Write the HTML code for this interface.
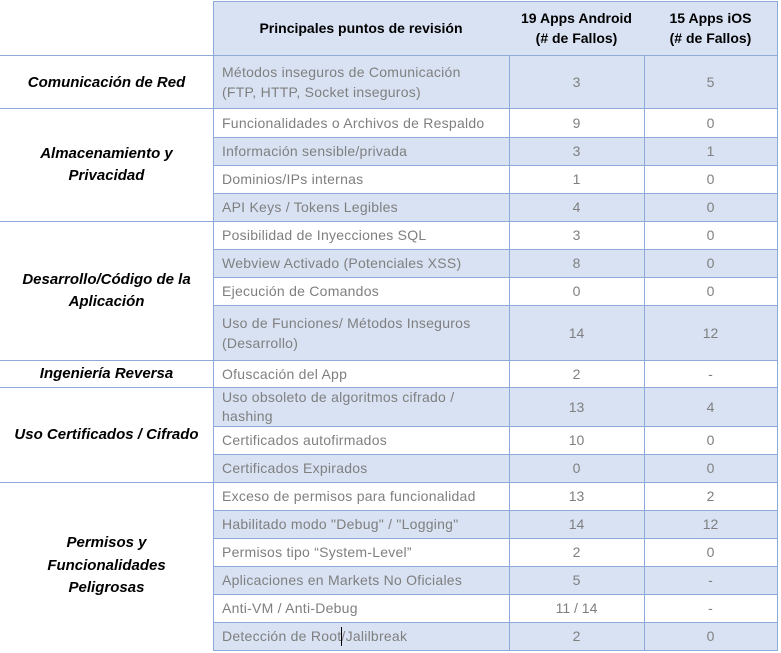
<!DOCTYPE html>
<html><head><meta charset="utf-8"><style>
*{margin:0;padding:0;box-sizing:border-box}
body{width:781px;height:653px;background:#fff;position:relative;overflow:hidden;font-family:"Liberation Sans",Arial,sans-serif}
.h{position:absolute;height:1px;background:#8eaadb}
.v{position:absolute;width:1px;background:#8eaadb}
.bg{position:absolute;left:213px;width:564px;background:#d9e2f3}
.t{position:absolute;left:222px;width:285px;font-size:14px;color:#7f7f7f;letter-spacing:0.25px;display:flex;align-items:center;line-height:20px;white-space:nowrap}
.n{position:absolute;font-size:14px;color:#7f7f7f;display:flex;align-items:center;justify-content:center;white-space:nowrap}
.a{left:509px;width:135px}
.b{left:644px;width:133px}
.cat{position:absolute;left:0;width:213px;font-size:15px;font-weight:bold;font-style:italic;color:#000;display:flex;align-items:center;justify-content:center;text-align:center;line-height:22px;white-space:nowrap}
.hd{position:absolute;top:1px;height:54px;font-size:14px;font-weight:bold;color:#000;display:flex;align-items:center;justify-content:center;text-align:center;line-height:20px;white-space:nowrap}
</style></head><body>

<!-- backgrounds -->
<div class="bg" style="top:1px;height:54px"></div>
<div class="bg" style="top:55px;height:53px"></div>
<div class="bg" style="top:137px;height:28px"></div>
<div class="bg" style="top:193px;height:28px"></div>
<div class="bg" style="top:249px;height:28px"></div>
<div class="bg" style="top:305px;height:55px"></div>
<div class="bg" style="top:387px;height:39px"></div>
<div class="bg" style="top:454px;height:28px"></div>
<div class="bg" style="top:510px;height:28px"></div>
<div class="bg" style="top:566px;height:28px"></div>
<div class="bg" style="top:622px;height:28px"></div>

<!-- horizontal lines (right table) -->
<div class="h" style="top:1px;left:213px;width:565px"></div>
<div class="h" style="top:55px;left:0;width:778px"></div>
<div class="h" style="top:108px;left:0;width:778px"></div>
<div class="h" style="top:137px;left:213px;width:565px"></div>
<div class="h" style="top:165px;left:213px;width:565px"></div>
<div class="h" style="top:193px;left:213px;width:565px"></div>
<div class="h" style="top:221px;left:0;width:778px"></div>
<div class="h" style="top:249px;left:213px;width:565px"></div>
<div class="h" style="top:277px;left:213px;width:565px"></div>
<div class="h" style="top:305px;left:213px;width:565px"></div>
<div class="h" style="top:360px;left:0;width:778px"></div>
<div class="h" style="top:387px;left:0;width:778px"></div>
<div class="h" style="top:426px;left:213px;width:565px"></div>
<div class="h" style="top:454px;left:213px;width:565px"></div>
<div class="h" style="top:482px;left:0;width:778px"></div>
<div class="h" style="top:510px;left:213px;width:565px"></div>
<div class="h" style="top:538px;left:213px;width:565px"></div>
<div class="h" style="top:566px;left:213px;width:565px"></div>
<div class="h" style="top:594px;left:213px;width:565px"></div>
<div class="h" style="top:622px;left:213px;width:565px"></div>
<div class="h" style="top:650px;left:213px;width:565px"></div>

<!-- vertical lines -->
<div class="v" style="left:213px;top:1px;height:650px"></div>
<div class="v" style="left:509px;top:55px;height:596px"></div>
<div class="v" style="left:644px;top:55px;height:596px"></div>
<div class="v" style="left:777px;top:1px;height:650px"></div>

<!-- header -->
<div class="hd" style="left:213px;width:296px">Principales puntos de revisión</div>
<div class="hd" style="left:509px;width:135px">19 Apps Android<br>(# de Fallos)</div>
<div class="hd" style="left:644px;width:133px">15 Apps iOS<br>(# de Fallos)</div>

<!-- categories -->
<div class="cat" style="top:55px;height:55px">Comunicación de Red</div>
<div class="cat" style="top:108px;height:113px">Almacenamiento y<br>Privacidad</div>
<div class="cat" style="top:221px;height:139px">Desarrollo/Código de la<br>Aplicación</div>
<div class="cat" style="top:360px;height:27px">Ingeniería Reversa</div>
<div class="cat" style="top:387px;height:95px">Uso Certificados / Cifrado</div>
<div class="cat" style="top:482px;height:168px;line-height:22.5px">Permisos y<br>Funcionalidades<br>Peligrosas</div>

<!-- rows -->
<div class="t" style="top:55px;height:53px">Métodos inseguros de Comunicación<br>(FTP, HTTP, Socket inseguros)</div>
<div class="n a" style="top:55px;height:53px">3</div><div class="n b" style="top:55px;height:53px">5</div>

<div class="t" style="top:108px;height:29px">Funcionalidades o Archivos de Respaldo</div>
<div class="n a" style="top:108px;height:29px">9</div><div class="n b" style="top:108px;height:29px">0</div>

<div class="t" style="top:137px;height:28px">Información sensible/privada</div>
<div class="n a" style="top:137px;height:28px">3</div><div class="n b" style="top:137px;height:28px">1</div>

<div class="t" style="top:165px;height:28px">Dominios/IPs internas</div>
<div class="n a" style="top:165px;height:28px">1</div><div class="n b" style="top:165px;height:28px">0</div>

<div class="t" style="top:193px;height:28px">API Keys / Tokens Legibles</div>
<div class="n a" style="top:193px;height:28px">4</div><div class="n b" style="top:193px;height:28px">0</div>

<div class="t" style="top:221px;height:28px">Posibilidad de Inyecciones SQL</div>
<div class="n a" style="top:221px;height:28px">3</div><div class="n b" style="top:221px;height:28px">0</div>

<div class="t" style="top:249px;height:28px">Webview Activado (Potenciales XSS)</div>
<div class="n a" style="top:249px;height:28px">8</div><div class="n b" style="top:249px;height:28px">0</div>

<div class="t" style="top:277px;height:28px">Ejecución de Comandos</div>
<div class="n a" style="top:277px;height:28px">0</div><div class="n b" style="top:277px;height:28px">0</div>

<div class="t" style="top:305px;height:55px">Uso de Funciones/ Métodos Inseguros<br>(Desarrollo)</div>
<div class="n a" style="top:305px;height:55px">14</div><div class="n b" style="top:305px;height:55px">12</div>

<div class="t" style="top:360px;height:27px">Ofuscación del App</div>
<div class="n a" style="top:360px;height:27px">2</div><div class="n b" style="top:360px;height:27px">-</div>

<div class="t" style="top:387px;height:39px;line-height:19px">Uso obsoleto de algoritmos cifrado /<br>hashing</div>
<div class="n a" style="top:387px;height:39px">13</div><div class="n b" style="top:387px;height:39px">4</div>

<div class="t" style="top:426px;height:28px">Certificados autofirmados</div>
<div class="n a" style="top:426px;height:28px">10</div><div class="n b" style="top:426px;height:28px">0</div>

<div class="t" style="top:454px;height:28px">Certificados Expirados</div>
<div class="n a" style="top:454px;height:28px">0</div><div class="n b" style="top:454px;height:28px">0</div>

<div class="t" style="top:482px;height:28px">Exceso de permisos para funcionalidad</div>
<div class="n a" style="top:482px;height:28px">13</div><div class="n b" style="top:482px;height:28px">2</div>

<div class="t" style="top:510px;height:28px">Habilitado modo "Debug" / "Logging"</div>
<div class="n a" style="top:510px;height:28px">14</div><div class="n b" style="top:510px;height:28px">12</div>

<div class="t" style="top:538px;height:28px">Permisos tipo “System-Level”</div>
<div class="n a" style="top:538px;height:28px">2</div><div class="n b" style="top:538px;height:28px">0</div>

<div class="t" style="top:566px;height:28px">Aplicaciones en Markets No Oficiales</div>
<div class="n a" style="top:566px;height:28px">5</div><div class="n b" style="top:566px;height:28px">-</div>

<div class="t" style="top:594px;height:28px">Anti-VM / Anti-Debug</div>
<div class="n a" style="top:594px;height:28px">11 / 14</div><div class="n b" style="top:594px;height:28px">-</div>

<div class="t" style="top:622px;height:28px">Detección de Root/Jalilbreak</div>
<div class="n a" style="top:622px;height:28px">2</div><div class="n b" style="top:622px;height:28px">0</div>

<!-- text caret -->
<div style="position:absolute;left:341px;top:627px;width:1px;height:19px;background:#000"></div>

</body></html>
